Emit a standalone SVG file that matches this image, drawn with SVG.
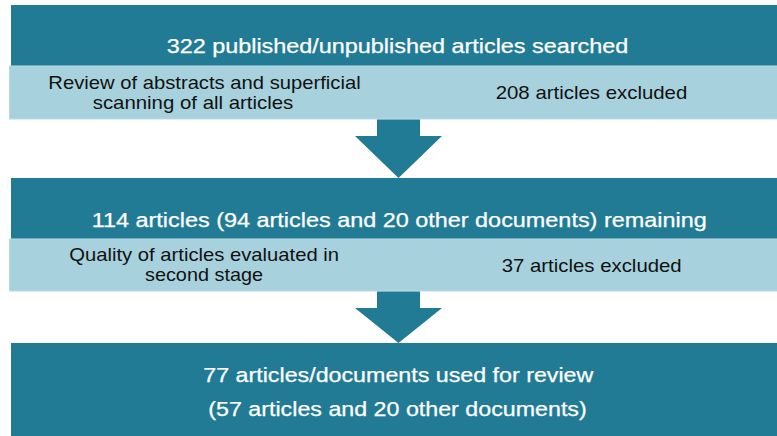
<svg xmlns="http://www.w3.org/2000/svg" width="777" height="436" viewBox="0 0 777 436">
  <style>
    .dark { fill: #217b95; }
    .light { fill: #a7d1dd; stroke: #b9dbe5; stroke-width: 1; }
    .arrow { fill: #217b95; }
    .title { font-family: "Liberation Sans", Arial, sans-serif; font-size: 19.5px; fill: #ffffff; stroke: #ffffff; stroke-width: 0.25; }
    .body { font-family: "Liberation Sans", Arial, sans-serif; font-size: 18.6px; fill: #111111; }
  </style>
  <rect width="777" height="436" fill="#ffffff"/>
  <g id="stage1">
    <rect class="dark" x="11" y="5" width="766" height="61"/>
    <text class="title" x="166.7" y="53.3" textLength="461.6" lengthAdjust="spacingAndGlyphs">322 published/unpublished articles searched</text>
  </g>
  <g id="filter1">
    <rect class="light" x="9.5" y="66" width="768" height="53"/>
    <text class="body" x="48.3" y="88.5" textLength="312.4" lengthAdjust="spacingAndGlyphs">Review of abstracts and superficial</text>
    <text class="body" x="92.7" y="109.3" textLength="200.6" lengthAdjust="spacingAndGlyphs">scanning of all articles</text>
    <text class="body" x="495.7" y="99" textLength="191.6" lengthAdjust="spacingAndGlyphs">208 articles excluded</text>
  </g>
  <g id="stage2">
    <rect class="dark" x="11" y="178" width="766" height="61"/>
    <text class="title" x="91.7" y="226.7" textLength="615" lengthAdjust="spacingAndGlyphs">114 articles (94 articles and 20 other documents) remaining</text>
  </g>
  <g id="filter2">
    <rect class="light" x="9.5" y="239" width="768" height="52"/>
    <text class="body" x="69.3" y="261" textLength="269.7" lengthAdjust="spacingAndGlyphs">Quality of articles evaluated in</text>
    <text class="body" x="145" y="281" textLength="118" lengthAdjust="spacingAndGlyphs">second stage</text>
    <text class="body" x="501.7" y="271.7" textLength="180" lengthAdjust="spacingAndGlyphs">37 articles excluded</text>
  </g>
  <g id="stage3">
    <rect class="dark" x="11" y="343" width="766" height="93"/>
    <text class="title" x="203.3" y="381.7" textLength="390" lengthAdjust="spacingAndGlyphs">77 articles/documents used for review</text>
    <text class="title" x="208.3" y="416" textLength="378.4" lengthAdjust="spacingAndGlyphs">(57 articles and 20 other documents)</text>
  </g>
  <g id="connectors">
    <polygon class="arrow" points="377,119.5 420,119.5 420,136 442,136 398.5,178 355,136 377,136"/>
    <polygon class="arrow" points="377,291.5 420,291.5 420,308 442,308 398.5,343 355,308 377,308"/>
  </g>
</svg>
